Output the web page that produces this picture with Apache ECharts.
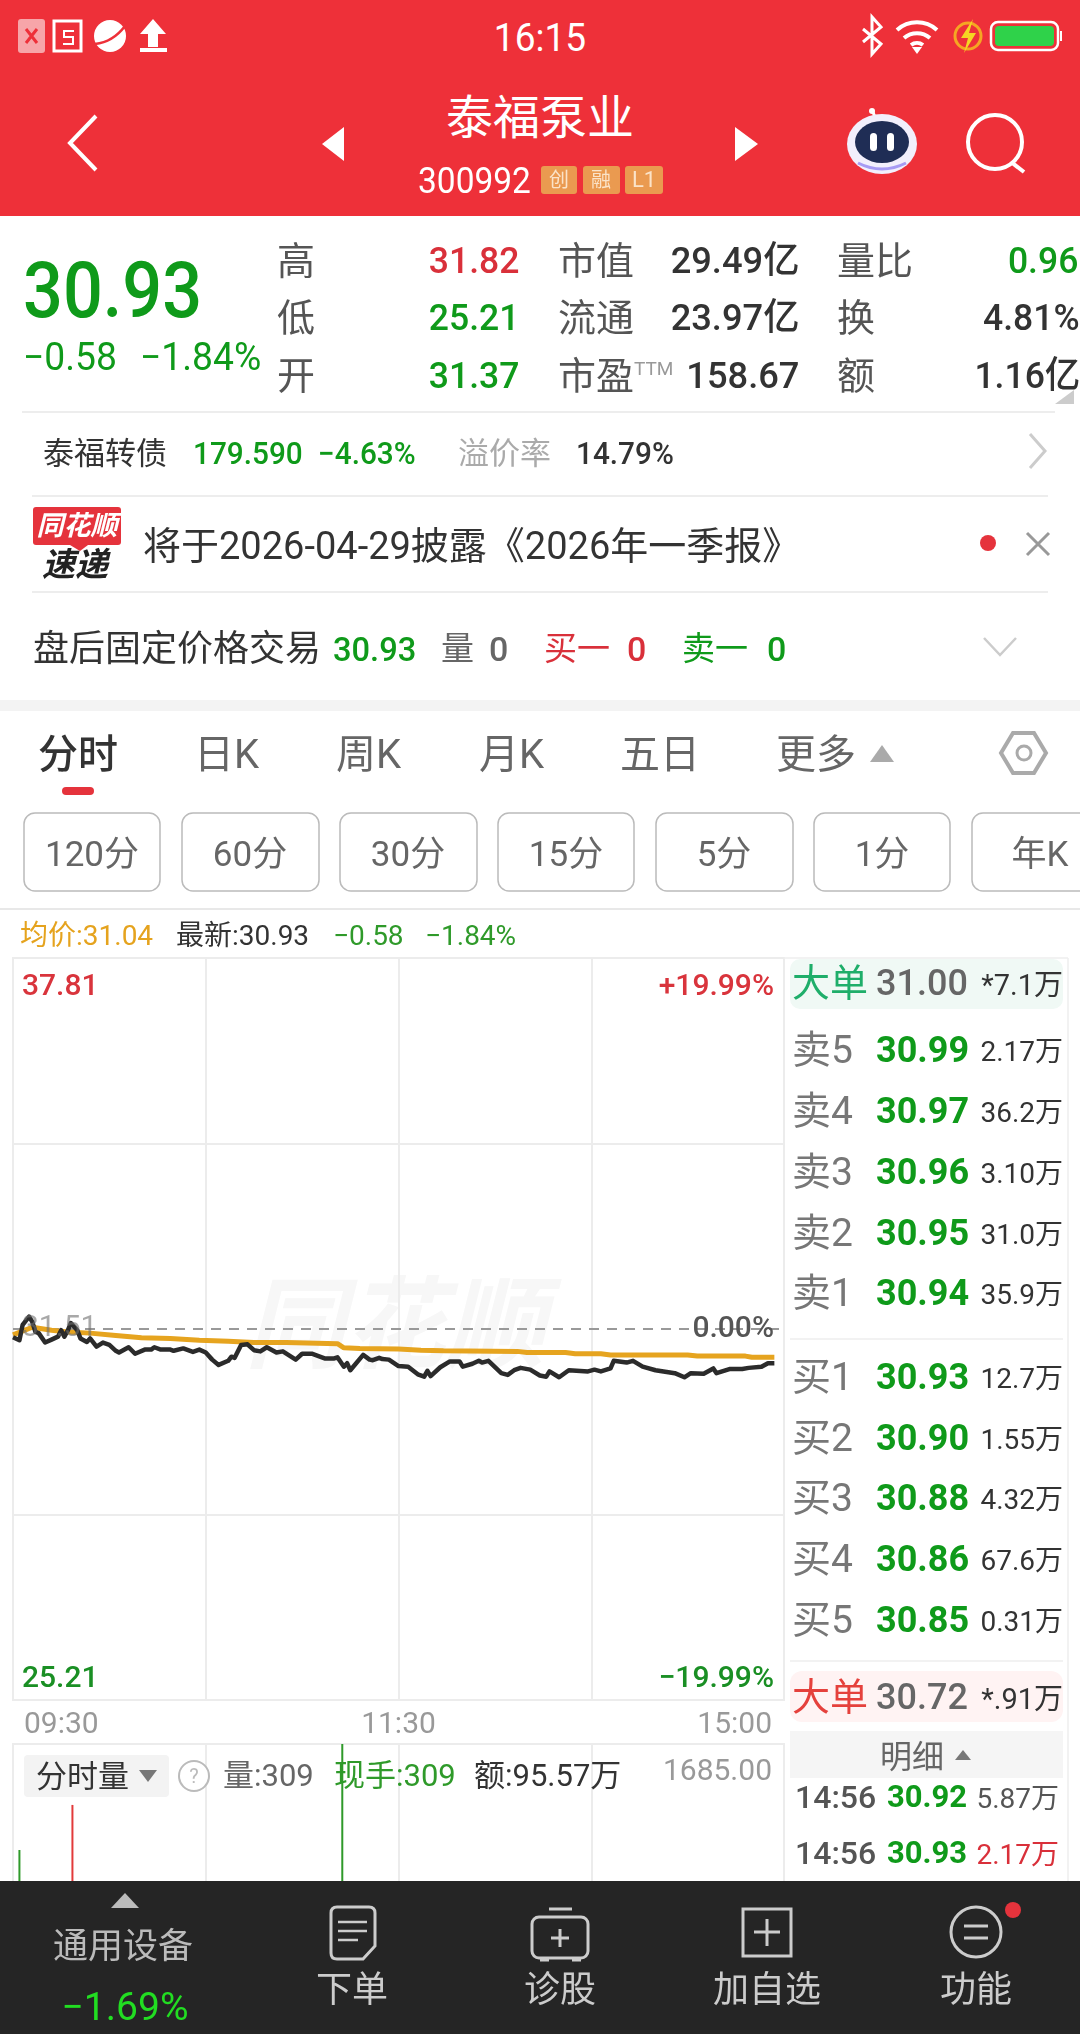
<!DOCTYPE html>
<html lang="zh"><head><meta charset="utf-8">
<script src="https://cdn.jsdelivr.net/npm/echarts@6/dist/echarts.min.js"></script>
<style>
html,body{margin:0;padding:0;background:#fff;width:1080px;height:2034px;overflow:hidden}
#chart{position:absolute;left:0;top:0;width:1080px;height:2034px}
#shapes{position:absolute;left:0;top:0}
#texts{position:absolute;left:0;top:0;width:1080px;height:2034px;overflow:hidden;font-family:Roboto,"Noto Sans CJK SC",sans-serif}
#texts span{position:absolute;white-space:nowrap}
</style></head><body>
<div id="chart"></div>
<svg id="shapes" width="1080" height="2034" viewBox="0 0 1080 2034" xmlns="http://www.w3.org/2000/svg">
<rect x="0" y="0" width="1080" height="216" fill="#ee3039"/>
<!-- status bar left -->
<rect x="18" y="19" width="27" height="34" rx="3" fill="#f7a5a9"/>
<path d="M26 29l11 14M37 29l-11 14" stroke="#ee3039" stroke-width="3"/>
<rect x="54" y="21" width="27" height="30" fill="none" stroke="#fff" stroke-width="3"/><path d="M74 31h-10v6h9v7h-10" fill="none" stroke="#fff" stroke-width="2"/>
<circle cx="110" cy="36" r="16" fill="#fff"/><path d="M95 44q18-2 30-18" stroke="#ee3039" stroke-width="2.5" fill="none"/>
<path d="M153 19l13 15h-8v13h-10v-13h-8z" fill="#fff"/><rect x="140" y="48" width="27" height="4" fill="#fff"/>
<!-- status bar right -->
<path d="M863 29l18 15-9 10v-37l9 10-18 15" fill="none" stroke="#fff" stroke-width="3"/>
<path d="M897 30a30 30 0 0 1 40 0M904 38a20 20 0 0 1 26 0M911 45a10 10 0 0 1 12 0" fill="none" stroke="#fff" stroke-width="4"/><path d="M912 47h10l-5 7z" fill="#fff"/>
<circle cx="968" cy="36" r="13" fill="none" stroke="#f5a623" stroke-width="3"/><path d="M973 19l-12 19h7l-4 15 12-20h-7z" fill="#f5d523"/>
<rect x="991" y="22" width="67" height="28" rx="7" fill="none" stroke="#fff" stroke-width="2.5"/><rect x="995" y="26" width="59" height="20" rx="4" fill="#2fd24a"/><rect x="1060" y="31" width="2" height="10" fill="#fff"/>
<!-- nav -->
<path d="M96 116l-26 27 26 27" fill="none" stroke="#fff" stroke-width="4"/>
<path d="M344 127v34l-22-17z" fill="#fff"/><path d="M735 127v34l23-17z" fill="#fff"/>
<rect x="541" y="166" width="36" height="28" rx="3" fill="#ea9a50"/><rect x="583" y="166" width="37" height="28" rx="3" fill="#ea9a50"/><rect x="625" y="166" width="38" height="28" rx="3" fill="#ea9a50"/>
<!-- robot -->
<circle cx="872" cy="111" r="3" fill="#fff"/><path d="M873 112l3 8" stroke="#fff" stroke-width="3"/>
<ellipse cx="882" cy="144" rx="35" ry="30" fill="#f2effc"/><ellipse cx="882" cy="142" rx="27" ry="21" fill="#1f2d55"/>
<rect x="870" y="133" width="7" height="18" rx="3.5" fill="#fff"/><rect x="887" y="133" width="7" height="18" rx="3.5" fill="#fff"/>
<path d="M858 163q24 12 48 0" stroke="#a79bf4" stroke-width="3" fill="none"/>
<circle cx="995" cy="142" r="27" fill="none" stroke="#fff" stroke-width="4"/><path d="M1011 162l13 10" stroke="#fff" stroke-width="4"/>
<!-- dividers -->
<path d="M1074 390v14h-19z" fill="#ccc"/>
<path d="M22 412H1055M32 496H1048M32 592H1048" stroke="#e8e8e8" stroke-width="1.5"/>
<path d="M1030 434l15 17-15 17" fill="none" stroke="#ccc" stroke-width="3"/>
<rect x="33" y="507" width="88" height="38" rx="3" fill="#e5333c"/><path d="M70 545l10 6 8-6z" fill="#e5333c"/>
<circle cx="988" cy="543" r="8" fill="#e5333c"/>
<path d="M1027 533l22 22M1049 533l-22 22" stroke="#999" stroke-width="3"/>
<path d="M984 638l16 17 16-17" fill="none" stroke="#ccc" stroke-width="2.5"/>
<rect x="0" y="700" width="1080" height="11" fill="#f3f3f3"/>
<rect x="62" y="787" width="32" height="8" rx="4" fill="#e5333c"/>
<path d="M882 745l12 17h-24z" fill="#aaa"/>
<path d="M1013 733h21l12 20-12 20h-21l-12-20z" fill="none" stroke="#aaa" stroke-width="4"/><circle cx="1024" cy="753" r="7" fill="none" stroke="#aaa" stroke-width="3"/>
<g fill="none" stroke="#bbb" stroke-width="1.5">
<rect x="24" y="813" width="136" height="78" rx="11"/><rect x="182" y="813" width="137" height="78" rx="11"/><rect x="340" y="813" width="137" height="78" rx="11"/><rect x="498" y="813" width="136" height="78" rx="11"/><rect x="656" y="813" width="137" height="78" rx="11"/><rect x="814" y="813" width="136" height="78" rx="11"/><rect x="972" y="813" width="136" height="78" rx="11"/>
</g>
<path d="M0 909H1080" stroke="#e8e8e8" stroke-width="2"/>
<!-- right panel -->
<path d="M1068 958V1881M784 958H1068" stroke="#eee" stroke-width="1.5"/>
<rect x="790" y="959" width="273" height="50" rx="10" fill="#f0f9f5"/>
<path d="M790 1339H1063M790 1661H1063" stroke="#eee" stroke-width="1.5"/>
<rect x="790" y="1671" width="273" height="51" rx="12" fill="#fff3f3"/>
<rect x="790" y="1731" width="273" height="47" fill="#f5f5f5"/>
<path d="M963 1750l8 10h-16z" fill="#777"/>
<!-- volume header -->
<rect x="24" y="1755" width="145" height="42" rx="4" fill="#f3f3f3"/>
<path d="M139 1770h18l-9 12z" fill="#777"/>
<circle cx="194" cy="1776" r="15" fill="#fff" stroke="#bbb" stroke-width="2"/>
<!-- bottom bar -->
<rect x="0" y="1881" width="1080" height="153" fill="#252525"/>
<path d="M125 1893l14 15h-28z" fill="#bbb"/>
<g fill="none" stroke="#ccc" stroke-width="3">
<path d="M337 1907h32q6 0 6 6v33l-12 13h-26q-6 0-6-6v-40q0-6 6-6z"/><path d="M338 1922h29M338 1931h29M338 1940h20" stroke-width="2.5"/>
<rect x="532" y="1917" width="56" height="41" rx="7"/><path d="M549 1909h23M560 1929v18M551 1938h18M540 1960h9M572 1960h9"/>
<rect x="743" y="1909" width="48" height="47"/><path d="M767 1919v27M754 1932h26"/>
<circle cx="976" cy="1932" r="25"/><path d="M964 1926h24M964 1938h24"/>
</g>
<circle cx="1013" cy="1910" r="8" fill="#e5333c"/>
</svg>
<div id="texts"></div>
<script>
// ---------- chart data ----------
const prevClose = 31.51;
const priceAxisMin = 25.21;
const priceAxisMax = 37.81;
const priceGridValues = [25.21, 28.36, 34.66, 37.81];
const priceLabelValues = [25.21, 31.51, 37.81];
const pctAxisMax = 19.99;
const pctLabelValues = [-19.99, 0, 19.99];
const timeTickMinutes = [0, 60, 120, 180, 240];
const timeLabelMinutes = [0, 120, 240];
const timeLabelTexts = {0: '09:30', 120: '11:30', 240: '15:00'};
const volumeAxisMax = 1685;

const priceMinutes = [0,2,3,5,6,7,8,10,12,14,15,16,17,18,20,21,23,24,26,28,30,32,33,36,38,41,43,44,46,49,50,53,56,58,60,62,64,67,68,69,71,73,75,77,79,82,84,88,90,93,97,100,101,103,104,105,109,111,112,114,115,117,120,123,126,128,129,130,133,136,139,140,143,145,146,148,152,154,156,158,161,164,166,167,170,173,179,181,183,186,187,191,193,196,200,206,209,211,215,218,219,223,227,229,233,235,237];
const priceValues = [31.37,31.32,31.58,31.72,31.63,31.46,31.44,31.28,31.33,31.38,31.49,31.38,31.48,31.61,31.49,31.35,31.29,31.35,31.21,31.28,31.24,31.14,31.11,31.20,31.09,31.16,31.16,31.20,31.16,31.16,31.14,31.18,31.12,31.16,31.11,30.99,30.90,30.97,31.04,31.02,31.24,31.25,31.15,31.13,31.20,31.11,31.13,30.99,31.09,31.09,31.01,31.01,31.03,30.87,30.93,30.81,31.07,30.99,30.98,31.02,31.00,30.99,30.88,30.87,30.74,30.70,30.80,30.71,30.86,30.96,30.96,30.87,30.92,30.97,30.94,30.97,30.76,30.73,30.81,30.85,30.82,30.72,30.70,30.79,30.69,30.81,30.79,30.82,30.79,30.84,30.97,30.94,30.97,30.87,30.81,30.76,30.69,30.76,30.75,30.84,30.76,30.83,30.83,30.85,30.87,30.93,30.93];
const avgMinutes = [0,6,12,17,24,32,40,49,58,67,75,85,101,103,108,120,127,134,157,160,172,175,183,186,210,213,228,230,237];
const avgValues = [31.41,31.54,31.49,31.46,31.44,31.40,31.36,31.35,31.32,31.30,31.28,31.28,31.26,31.19,31.18,31.17,31.15,31.14,31.13,31.11,31.11,31.09,31.09,31.07,31.07,31.05,31.05,31.03,31.03];
// only these three volume bars show above the bottom toolbar
const volumeMinutes = [2, 18.5, 102.5];
const volumeValues = [1038, 1313, 1685];
const volumeColors = ['#2f9a2a', '#e23a3a', '#2f9a2a'];

// ---------- page text ----------
const G='#0f9a1a',R='#d9303a',D='#333',M='#666',L='#999';
const items=[
// [text,x,yCenter,size,color,{right,center,weight,style,sx}]
['16:15',540,38,39,'#fff',{center:1,sx:.95}],
['泰福泵业',540,118,47,'#fff',{center:1}],
['300992',418,181,36,'#fff',{sx:.93}],
['创',559,180,20,'#fbe3c8',{center:1}],['融',601,180,20,'#fbe3c8',{center:1}],['L1',644,180,22,'#fbe3c8',{center:1}],
['30.93',23,291,78,G,{weight:500,sx:.9}],
['−0.58',23,357,38,G,{sx:.98}],['−1.84%',140,357,38,G,{sx:.98}],
['高',277,261,38,'#555'],['低',277,318,38,'#555'],['开',277,376,38,'#555'],
['31.82',519,261,37,R,{right:1,weight:500,sx:.96}],['25.21',519,318,37,G,{right:1,weight:500,sx:.96}],['31.37',519,376,37,G,{right:1,weight:500,sx:.96}],
['市值',558,261,38,'#555'],['流通',558,318,38,'#555'],['市盈',558,376,38,'#555'],['TTM',634,369,19,'#999'],
['29.49亿',799,261,37,D,{right:1,weight:500,sx:.98}],['23.97亿',799,318,37,D,{right:1,weight:500,sx:.98}],['158.67',799,376,37,D,{right:1,weight:500,sx:.98}],
['量比',837,261,38,'#555'],['换',837,318,38,'#555'],['额',837,376,38,'#555'],
['0.96',1078,261,37,G,{right:1,weight:500,sx:.96}],['4.81%',1080,318,37,D,{right:1,weight:500,sx:.96}],['1.16亿',1080,376,37,D,{right:1,weight:500,sx:.96}],
['泰福转债',43,454,31,D],['179.590',193,454,31,G,{weight:500,sx:.96}],['−4.63%',318,454,31,G,{weight:500,sx:.96}],['溢价率',458,454,31,'#aaa'],['14.79%',576,454,31,D,{weight:500,sx:.96}],
['同花顺',77,526,27,'#fff',{center:1,weight:700,style:'italic'}],['速递',75,565,33,'#222',{center:1,weight:700,style:'italic'}],
['将于2026-04-29披露《2026年一季报》',143,546,38,D],
['盘后固定价格交易',33,649,36,D],['30.93',333,649,34,G,{weight:500,sx:.96}],['量',441,649,33,M],['0',489,649,34,M,{weight:500}],['买一',544,649,33,R],['0',627,649,34,R,{weight:500}],['卖一',682,649,33,G],['0',767,649,34,G,{weight:500}],
['分时',38,755,40,D,{weight:500}],['日K',194,755,40,M],['周K',336,755,40,M],['月K',479,755,40,M],['五日',620,755,40,M],['更多',776,755,40,M],
['120分',92,855,35,M,{center:1}],['60分',250,855,35,M,{center:1}],['30分',408,855,35,M,{center:1}],['15分',566,855,35,M,{center:1}],['5分',724,855,35,M,{center:1}],['1分',882,855,35,M,{center:1}],['年K',1040,855,35,M,{center:1}],
['均价:31.04',20,936,28,'#e5a31e'],['最新:30.93',176,936,28,D],['−0.58',333,936,28,'#2f9a2a'],['−1.84%',425,936,28,'#2f9a2a'],
// order book
['大单',792,983,38,'#1fae6a'],['31.00',876,983,36,M,{weight:500}],['*7.1万',1063,985,29,D,{right:1}],
['卖5',792,1050,39,'#777'],['30.99',876,1050,36,G,{weight:700}],['2.17万',1063,1052,28,D,{right:1}],
['卖4',792,1111,39,'#777'],['30.97',876,1111,36,G,{weight:700}],['36.2万',1063,1113,28,D,{right:1}],
['卖3',792,1172,39,'#777'],['30.96',876,1172,36,G,{weight:700}],['3.10万',1063,1174,28,D,{right:1}],
['卖2',792,1233,39,'#777'],['30.95',876,1233,36,G,{weight:700}],['31.0万',1063,1235,28,D,{right:1}],
['卖1',792,1293,39,'#777'],['30.94',876,1293,36,G,{weight:700}],['35.9万',1063,1295,28,D,{right:1}],
['买1',792,1377,39,'#777'],['30.93',876,1377,36,G,{weight:700}],['12.7万',1063,1379,28,D,{right:1}],
['买2',792,1438,39,'#777'],['30.90',876,1438,36,G,{weight:700}],['1.55万',1063,1440,28,D,{right:1}],
['买3',792,1498,39,'#777'],['30.88',876,1498,36,G,{weight:700}],['4.32万',1063,1500,28,D,{right:1}],
['买4',792,1559,39,'#777'],['30.86',876,1559,36,G,{weight:700}],['67.6万',1063,1561,28,D,{right:1}],
['买5',792,1620,39,'#777'],['30.85',876,1620,36,G,{weight:700}],['0.31万',1063,1622,28,D,{right:1}],
['大单',792,1697,38,'#e5413c'],['30.72',876,1697,36,M,{weight:500}],['*.91万',1063,1699,29,D,{right:1}],
['明细',880,1757,32,M],
['14:56',795,1797,32,'#555',{weight:500}],['30.92',887,1797,31,G,{weight:700}],['5.87万',1059,1799,28,'#555',{right:1}],
['14:56',795,1853,32,'#555',{weight:500}],['30.93',887,1853,31,G,{weight:700}],['2.17万',1059,1855,28,R,{right:1}],
// volume header
['分时量',36,1777,31,D],['?',194,1776,20,'#bbb',{center:1}],['量:309',223,1776,31,M],['现手:309',334,1776,31,'#2f9a2a'],['额:95.57万',474,1776,31,D],
// toolbar
['通用设备',123,1947,35,'#bbb',{center:1}],['−1.69%',125,2007,39,'#22dd22',{center:1}],
['下单',352,1990,36,'#ccc',{center:1}],['诊股',560,1990,36,'#ccc',{center:1}],['加自选',767,1990,36,'#ccc',{center:1}],['功能',976,1990,36,'#ccc',{center:1}]
];
const box=document.getElementById('texts');
items.forEach(([s,x,y,size,color,o])=>{
  o=o||{};
  const e=document.createElement('span');
  e.textContent=s;
  const sx=o.sx||1;
  e.style.cssText=`top:${y-size}px;height:${size*2}px;line-height:${size*2}px;font-size:${size}px;color:${color};font-weight:${o.weight||400};font-style:${o.style||'normal'};`;
  if(o.right){e.style.right=(1080-x)+'px';e.style.transformOrigin='right center';e.style.transform=`scaleX(${sx})`;}
  else if(o.center){e.style.left=x+'px';e.style.transform=`translateX(-50%) scaleX(${sx})`;}
  else {e.style.left=x+'px';e.style.transformOrigin='left center';e.style.transform=`scaleX(${sx})`;}
  box.appendChild(e);
});

// ---------- chart ----------
const FONT='Roboto,"Noto Sans CJK SC",sans-serif';
const GRID='#ececec';
const pairs=(a,b)=>a.map((m,i)=>[m,b[i]]);
const chart=echarts.init(document.getElementById('chart'),null,{renderer:'canvas',width:1080,height:2034});
chart.setOption({
  animation:false,
  backgroundColor:'transparent',
  graphic:[{type:'text',z:-1,silent:true,left:245,top:1272,style:{text:'同花顺',font:'italic 700 100px "Noto Sans CJK SC"',fill:'#f7f7f7'}}],
  grid:[
    {left:13,width:771,top:958,height:742,show:true,borderColor:GRID,borderWidth:2,backgroundColor:'transparent'},
    {left:13,width:771,top:1744,height:276,show:true,borderColor:GRID,borderWidth:2,backgroundColor:'transparent'}
  ],
  xAxis:[
    {type:'value',gridIndex:0,min:0,max:240,
      axisLine:{show:false},axisTick:{show:false,customValues:timeTickMinutes},
      splitLine:{show:true,lineStyle:{color:GRID,width:2}},
      axisLabel:{customValues:timeLabelMinutes,margin:10,alignMinLabel:'left',alignMaxLabel:'right',fontFamily:FONT,fontSize:30,color:'#999',
        formatter:v=>{const s=timeLabelTexts[v];return v===0?'{l|'+s+'}':v===240?'{r|'+s+'}':s;},
        rich:{l:{padding:[0,0,0,11],fontSize:30,fontFamily:FONT,color:'#999'},r:{padding:[0,12,0,0],fontSize:30,fontFamily:FONT,color:'#999'}}}},
    {type:'value',gridIndex:1,min:0,max:240,
      axisLine:{show:false},axisTick:{show:false,customValues:timeTickMinutes},axisLabel:{show:false},
      splitLine:{show:true,lineStyle:{color:GRID,width:2}}}
  ],
  yAxis:[
    {type:'value',gridIndex:0,min:priceAxisMin,max:priceAxisMax,position:'left',z:5,
      axisLine:{show:false},axisTick:{show:false,customValues:priceGridValues},
      splitLine:{show:true,lineStyle:{color:GRID,width:2}},
      axisLabel:{inside:true,margin:9,customValues:priceLabelValues,fontFamily:FONT,fontSize:30,
        formatter:v=>{const s=v.toFixed(2);return v>prevClose?'{u|'+s+'}':v<prevClose?'{d|'+s+'}':'{c|'+s+'}';},
        rich:{u:{color:'#d9343c',fontSize:30,fontWeight:500,fontFamily:FONT,padding:[58,0,0,0]},d:{color:'#1a8f24',fontSize:30,fontWeight:500,fontFamily:FONT,padding:[0,0,42,0]},c:{color:'rgba(110,110,110,0.6)',fontSize:30,fontFamily:FONT,padding:[0,0,2,0]}}}},
    {type:'value',gridIndex:0,min:-pctAxisMax,max:pctAxisMax,position:'right',z:5,
      axisLine:{show:false},axisTick:{show:false},splitLine:{show:false},
      axisLabel:{inside:true,margin:10,customValues:pctLabelValues,fontFamily:FONT,fontSize:30,
        formatter:v=>v>0?'{u|+'+v.toFixed(2)+'%}':v<0?'{d|−'+(-v).toFixed(2)+'%}':'{c|0.00%}',
        rich:{u:{color:'#d9343c',fontSize:30,fontWeight:500,fontFamily:FONT,padding:[58,0,0,0]},d:{color:'#1a8f24',fontSize:30,fontWeight:500,fontFamily:FONT,padding:[0,0,42,0]},c:{color:'#555',fontSize:30,fontWeight:500,fontFamily:FONT,padding:[0,0,0,0]}}}},
    {type:'value',gridIndex:1,min:0,max:volumeAxisMax,position:'right',z:5,
      axisLine:{show:false},axisTick:{show:false},splitLine:{show:false},
      axisLabel:{inside:true,margin:12,customValues:[volumeAxisMax],fontFamily:FONT,fontSize:30,
        formatter:v=>'{a|'+v.toFixed(2)+'}',rich:{a:{color:'#999',fontSize:30,fontFamily:FONT,padding:[57,0,0,0]}}}}
  ],
  series:[
    {type:'line',name:'均价',xAxisIndex:0,yAxisIndex:0,data:pairs(avgMinutes,avgValues),symbol:'none',z:2,
      lineStyle:{color:'#e6a41f',width:5},
      markLine:{silent:true,symbol:'none',label:{show:false},animation:false,z:1,
        lineStyle:{color:'#999',width:2,type:[10,8]},data:[{yAxis:prevClose}]}},
    {type:'line',name:'价格',xAxisIndex:0,yAxisIndex:0,data:pairs(priceMinutes,priceValues),symbol:'none',z:3,
      lineStyle:{color:'#2b2b2b',width:4.5,join:'round'}},
    {type:'bar',name:'分时量',xAxisIndex:1,yAxisIndex:2,barWidth:2,z:3,
      data:volumeMinutes.map((m,i)=>({value:[m,volumeValues[i]],itemStyle:{color:volumeColors[i]}}))}
  ]
});
</script>
</body></html>
